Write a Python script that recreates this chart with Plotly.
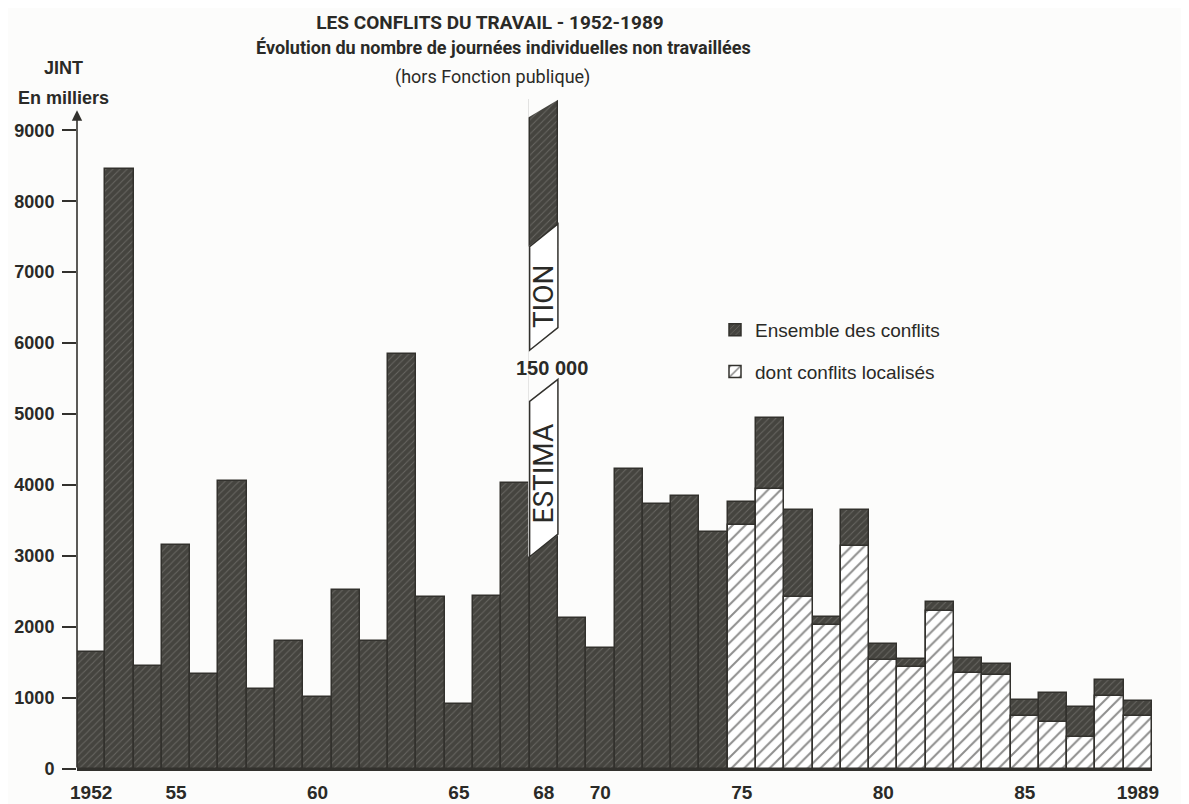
import plotly.graph_objects as go

# ---------------- data (thousands of JINT) ----------------
years = list(range(1952, 1990))
total = [1650, 8450, 1450, 3160, 1340, 4060, 1130, 1810, 1010, 2520,
         1800, 5850, 2430, 910, 2435, 4030, 150000, 2125, 1705, 4230,
         3740, 3840, 3340, 3760, 4950, 3650, 2140, 3650, 1760, 1550,
         2360, 1560, 1480, 970, 1070, 870, 1260, 960]
localized_years = list(range(1975, 1990))
localized = [3440, 3940, 2430, 2030, 3140, 1530, 1440, 2220, 1350, 1320,
             750, 660, 450, 1030, 740]

tick_years = [1952, 1955, 1960, 1965, 1968, 1970, 1975, 1980, 1985, 1989]
tick_text = ["1952", "55", "60", "65", "68", "70", "75", "80", "85", "1989"]
y_ticks = list(range(0, 10000, 1000))

# broken 1968 bar (estimated value 150 000): cut levels (left, right)
break_year = 1968
cut_low = (2990, 3310)
estima_top = (5180, 5490)
tion_bottom = (5900, 6220)
tion_top = (7360, 7680)
top_cut = (9180, 9440)

BG = "#fcfcfb"
DARK = "#45443f"
INK = "#2a2a27"
EDGE = "#32312d"

# ---------------- layout geometry ----------------
OFF = 8                      # page body margin
W, H = 1189, 804
L = 77 - OFF
T = 99 - OFF
PW, PH = 1075, 670
R = W - L - PW
B = H - T - PH
Y_MAX = 9440


def px(xp):
    """screen x pixel -> paper x"""
    return (xp - OFF - L) / PW


def py(yp):
    """screen y pixel -> paper y"""
    return (T + PH - (yp - OFF)) / PH


fig = go.Figure()

fig.add_trace(go.Bar(
    x=years, y=total, name="Ensemble des conflits", width=1.0,
    legendgroup="a",
    marker=dict(color=DARK,
                line=dict(color=EDGE, width=1.5),
                pattern=dict(shape="/", fgcolor="#8a8984", bgcolor=DARK,
                             size=5, solidity=0.2)),
))
fig.add_trace(go.Bar(
    x=localized_years, y=localized, name="dont conflits localisés", width=1.0,
    legendgroup="b",
    marker=dict(color="white",
                line=dict(color=EDGE, width=1.5),
                pattern=dict(shape="/", fgcolor="#1e1e1c", bgcolor="white",
                             size=9, solidity=0.22)),
))

xl, xr = break_year - 0.5, break_year + 0.5
shapes = [
    dict(type="path", xref="x", yref="y",
         path=f"M {xl-0.05},{cut_low[0]} L {xr+0.05},{cut_low[1]} L {xr+0.05},{tion_top[1]} L {xl-0.05},{tion_top[0]} Z",
         fillcolor=BG, line=dict(width=0), layer="above"),
    dict(type="path", xref="x", yref="y",
         path=f"M {xl},{cut_low[0]} L {xr},{cut_low[1]} L {xr},{estima_top[1]} L {xl},{estima_top[0]} Z",
         fillcolor="white", line=dict(color=EDGE, width=1.5), layer="above"),
    dict(type="path", xref="x", yref="y",
         path=f"M {xl},{tion_bottom[0]} L {xr},{tion_bottom[1]} L {xr},{tion_top[1]} L {xl},{tion_top[0]} Z",
         fillcolor="white", line=dict(color=EDGE, width=1.5), layer="above"),
    dict(type="path", xref="x", yref="y",
         path=f"M {xl-0.05},{top_cut[0]} L {xr+0.05},{top_cut[1]} L {xr+0.05},{Y_MAX+200} L {xl-0.05},{Y_MAX+200} Z",
         fillcolor=BG, line=dict(width=0), layer="above"),
]

SANS = "Liberation Sans, Arial, sans-serif"
COND = "Liberation Sans Narrow, Arial Narrow, Roboto, sans-serif"
label_font = dict(family=SANS, size=18, color=INK, weight="bold")

annotations = [
    dict(text="Évolution du nombre de journées individuelles non travaillées",
         x=px(503), y=py(48), xref="paper", yref="paper", showarrow=False,
         xanchor="center", yanchor="middle",
         font=dict(family=COND, size=18, color=INK, weight="bold")),
    dict(text="(hors Fonction publique)",
         x=px(492), y=py(77), xref="paper", yref="paper", showarrow=False,
         xanchor="center", yanchor="middle",
         font=dict(family=COND, size=18, color=INK)),
    dict(text="JINT", x=px(63), y=py(68), xref="paper", yref="paper", showarrow=False,
         xanchor="center", yanchor="middle", font=label_font),
    dict(text="En milliers", x=px(63), y=py(98), xref="paper", yref="paper", showarrow=False,
         xanchor="center", yanchor="middle", font=label_font),
    dict(text="", x=1951.5, y=9280, ax=1951.5, ay=0, xref="x", yref="y",
         axref="x", ayref="y", showarrow=True, arrowhead=2, arrowsize=1.3,
         arrowwidth=1.6, arrowcolor=EDGE),
    dict(text="ESTIMA", x=break_year, y=4160, xref="x", yref="y", showarrow=False,
         xanchor="center", yanchor="middle",
         textangle=-90, font=dict(family=COND, size=28, color=INK)),
    dict(text="TION", x=break_year, y=6660, xref="x", yref="y", showarrow=False,
         xanchor="center", yanchor="middle",
         textangle=-90, font=dict(family=COND, size=28, color=INK)),
    dict(text="150 000", x=break_year + 0.3, y=5650, xref="x", yref="y", showarrow=False,
         xanchor="center", yanchor="middle",
         font=dict(family=SANS, size=20, color=INK, weight="bold")),
]

fig.update_layout(
    width=W, height=H,
    margin=dict(l=L, r=R, t=T, b=B, autoexpand=False),
    paper_bgcolor=BG, plot_bgcolor=BG,
    barmode="overlay", bargap=0,
    title=dict(text="LES CONFLITS DU TRAVAIL - 1952-1989",
               x=(490 - OFF) / W, xanchor="center", y=1 - (22 - OFF) / H, yanchor="middle",
               font=dict(family=COND, size=19, color=INK, weight="bold")),
    showlegend=True,
    legend=dict(x=px(715), y=py(311), xanchor="left", yanchor="top",
                bgcolor="rgba(0,0,0,0)", tracegroupgap=14, traceorder="grouped",
                font=dict(family=SANS, size=19, color=INK)),
    shapes=shapes,
    annotations=annotations,
    xaxis=dict(range=[1951.5, 1989.5], tickvals=tick_years, ticktext=tick_text,
               showgrid=False, zeroline=False, showline=True, linecolor=EDGE, linewidth=2,
               ticks="", ticklabelstandoff=5, automargin=False,
               tickfont=dict(family=SANS, size=19, color=INK, weight="bold")),
    yaxis=dict(range=[0, Y_MAX], tickvals=y_ticks, showgrid=False, zeroline=False, showline=False,
               ticks="outside", ticklen=14, tickwidth=1.5, tickcolor=EDGE,
               ticklabelstandoff=4, automargin=False,
               tickfont=dict(family=SANS, size=18, color=INK, weight="bold")),
)

fig.write_html("out.html")
